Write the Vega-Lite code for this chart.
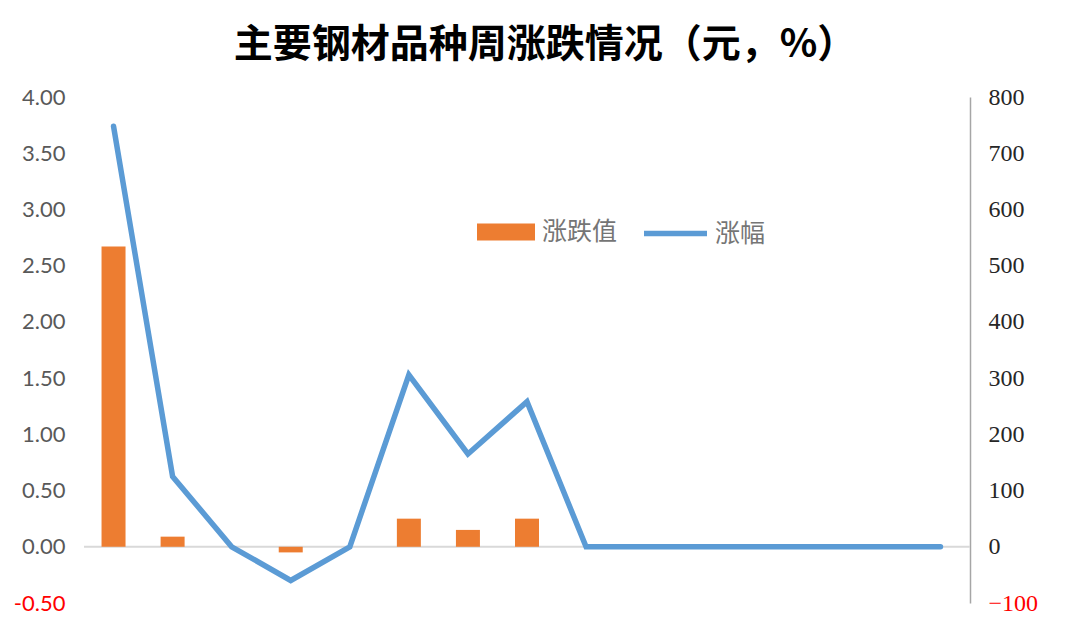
{
  "$schema": "https://vega.github.io/schema/vega-lite/v6.json",
  "width": 886,
  "height": 506,
  "autosize": {"type": "none"},
  "padding": {"left": 84, "top": 97, "right": 110, "bottom": 37},
  "background": "white",
  "title": {
    "text": "主要钢材品种周涨跌情况（元，%）",
    "font": "Noto Sans CJK SC",
    "fontSize": 39,
    "fontWeight": "bold",
    "color": "#000000",
    "anchor": "middle",
    "frame": "group",
    "baseline": "bottom",
    "offset": 20,
    "dx": 18,
    "dy": 39
  },
  "config": {"view": {"stroke": null}},
  "data": {
    "values": [
      {"idx": 1, "涨跌值": 2.67, "涨幅": 748},
      {"idx": 2, "涨跌值": 0.09, "涨幅": 125},
      {"idx": 3, "涨跌值": 0, "涨幅": 0},
      {"idx": 4, "涨跌值": -0.05, "涨幅": -60},
      {"idx": 5, "涨跌值": 0, "涨幅": 0},
      {"idx": 6, "涨跌值": 0.25, "涨幅": 306},
      {"idx": 7, "涨跌值": 0.15, "涨幅": 165},
      {"idx": 8, "涨跌值": 0.25, "涨幅": 258},
      {"idx": 9, "涨跌值": 0, "涨幅": 0},
      {"idx": 10, "涨跌值": 0, "涨幅": 0},
      {"idx": 11, "涨跌值": 0, "涨幅": 0},
      {"idx": 12, "涨跌值": 0, "涨幅": 0},
      {"idx": 13, "涨跌值": 0, "涨幅": 0},
      {"idx": 14, "涨跌值": 0, "涨幅": 0},
      {"idx": 15, "涨跌值": 0, "涨幅": 0}
    ]
  },
  "layer": [
    {
      "layer": [
        {
          "data": {"values": [{"baseline": 0}]},
          "mark": {"type": "rule", "color": "#D9D9D9", "strokeWidth": 2},
          "encoding": {
            "y": {"field": "baseline", "type": "quantitative"}
          }
        },
        {
          "mark": {"type": "bar", "width": 24, "color": "#ED7D31"},
          "encoding": {
            "x": {
              "field": "idx",
              "type": "ordinal",
              "axis": null,
              "scale": {"paddingInner": 0, "paddingOuter": 0}
            },
            "y": {
              "field": "涨跌值",
              "type": "quantitative",
              "scale": {"domain": [-0.5, 4], "nice": false},
              "axis": {
                "orient": "left",
                "title": null,
                "values": [-0.5, 0, 0.5, 1, 1.5, 2, 2.5, 3, 3.5, 4],
                "labelExpr": "replace(format(datum.value, '.2f'), '−', '-')",
                "domain": false,
                "ticks": false,
                "grid": false,
                "labelPadding": 19,
                "labelFont": "Lato",
                "labelFontSize": 22,
                "labelColor": {"condition": {"test": "datum.value < 0", "value": "#FF0000"}, "value": "#595959"}
              }
            },
            "color": {
              "datum": "涨跌值",
              "scale": {"range": ["#ED7D31"]},
              "legend": {
                "orient": "none",
                "legendX": 393,
                "legendY": 106,
                "title": null,
                "padding": 0,
                "symbolType": "M-1,-0.29H1V0.29H-1Z",
                "symbolSize": 3364,
                "symbolStrokeWidth": 0,
                "labelOffset": 7,
                "labelFont": "Noto Sans CJK SC",
                "labelFontSize": 25,
                "labelColor": "#757575"
              }
            }
          }
        }
      ]
    },
    {
      "mark": {"type": "line", "strokeWidth": 5.5, "strokeJoin": "miter", "strokeCap": "round"},
      "encoding": {
        "x": {"field": "idx", "type": "ordinal", "axis": null},
        "y": {
          "field": "涨幅",
          "type": "quantitative",
          "scale": {"domain": [-100, 800], "nice": false},
          "axis": {
            "orient": "right",
            "title": null,
            "values": [-100, 0, 100, 200, 300, 400, 500, 600, 700, 800],
            "format": "d",
            "domain": true,
            "domainColor": "#A6A6A6",
            "domainWidth": 1.5,
            "ticks": false,
            "grid": false,
            "labelPadding": 18,
            "labelFont": "Liberation Serif",
            "labelFontSize": 24,
            "labelColor": {"condition": {"test": "datum.value < 0", "value": "#FF0000"}, "value": "#262626"}
          }
        },
        "stroke": {
          "datum": "涨幅",
          "scale": {"range": ["#5B9BD5"]},
          "legend": {
            "orient": "none",
            "legendX": 557,
            "legendY": 102,
            "title": null,
            "padding": 0,
            "symbolType": "stroke",
            "symbolSize": 3969,
            "symbolStrokeWidth": 5.5,
            "labelOffset": 5,
            "labelFont": "Noto Sans CJK SC",
            "labelFontSize": 25,
            "labelColor": "#757575"
          }
        }
      }
    }
  ],
  "resolve": {"scale": {"y": "independent"}}
}
